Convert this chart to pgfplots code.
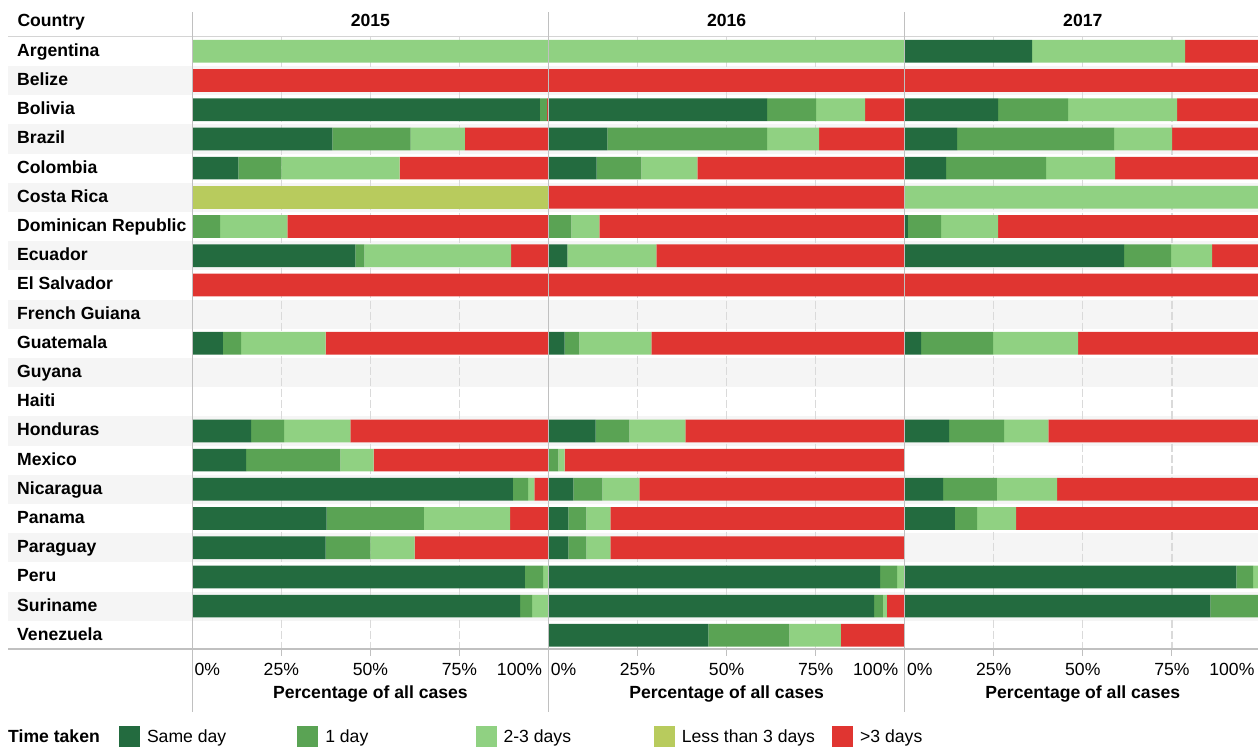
\documentclass[border=0pt]{standalone}
\usepackage{fontspec}
\setmainfont{Liberation Sans}
\usepackage{pgfplots}
\usepackage{pgfplotstable}
\pgfplotsset{compat=1.18}

\definecolor{csame}{RGB}{35,107,63}
\definecolor{cone}{RGB}{90,163,84}
\definecolor{ctwo}{RGB}{144,209,130}
\definecolor{cless}{RGB}{184,203,93}
\definecolor{cgt}{RGB}{224,53,49}
\definecolor{rowbg}{RGB}{245,245,245}
\definecolor{sepgray}{RGB}{192,192,192}
\definecolor{hdrgray}{RGB}{212,212,212}
\definecolor{gridgray}{RGB}{218,218,218}
\newcommand\fs{\fontsize{17.6}{21}\selectfont}

% rows: 0 Argentina ... 20 Venezuela
\pgfplotstableread{
row same one two less gt
0  0    0    100  0   0
1  0    0    0    0   100
2  97.6 2.0  0    0   0.4
3  39.3 22.0 15.2 0   23.5
4  12.9 12.1 33.2 0   41.8
5  0    0    0    100 0
6  0    7.8  18.9 0   73.3
7  45.8 2.5  41.2 0   10.5
8  0    0    0    0   100
9  0    0    0    0   0
10 8.6  5.1  23.7 0   62.6
11 0    0    0    0   0
12 0    0    0    0   0
13 16.5 9.3  18.6 0   55.6
14 15.1 26.5 9.3  0   49.1
15 90.0 4.3  1.7  0   4.0
16 37.7 27.3 24.2 0   10.8
17 37.4 12.6 12.4 0   37.6
18 93.4 5.1  1.5  0   0
19 92.0 3.4  4.6  0   0
20 0    0    0    0   0
}\tabA

\pgfplotstableread{
row same one two gt
0  0    0    100  0
1  0    0    0    100
2  61.4 13.7 13.8 11.1
3  16.5 44.9 14.6 24.0
4  13.5 12.6 15.7 58.2
5  0    0    0    100
6  0    6.4  7.9  85.7
7  5.3  0    25.0 69.7
8  0    0    0    100
9  0    0    0    0
10 4.5  4.2  20.2 71.1
11 0    0    0    0
12 0    0    0    0
13 13.2 9.5  15.7 61.6
14 0    2.8  1.7  95.5
15 7.0  8.1  10.4 74.5
16 5.6  5.0  6.8  82.6
17 5.6  5.0  6.8  82.6
18 93.1 4.8  2.1  0
19 91.4 2.5  1.1  5.0
20 44.9 22.7 14.5 17.9
}\tabB

\pgfplotstableread{
row same one two gt
0  35.8 0    42.9 21.3
1  0    0    0    100
2  26.2 19.7 30.6 23.5
3  14.7 44.1 16.3 24.9
4  11.6 28.1 19.4 40.9
5  0    0    100  0
6  0.9  9.3  16.0 73.8
7  61.6 13.2 11.5 13.7
8  0    0    0    100
9  0    0    0    0
10 4.6  20.2 23.9 51.3
11 0    0    0    0
12 0    0    0    0
13 12.5 15.4 12.4 59.7
14 0    0    0    0
15 10.8 15.1 16.9 57.2
16 14.1 6.2  11.0 68.7
17 0    0    0    0
18 93.1 4.7  2.2  0
19 85.8 14.2 0    0
20 0    0    0    0
}\tabC

\pgfplotsset{
  sq/.style={legend image code/.code={\fill[##1] (0pt,-10.5pt) rectangle (21pt,10.5pt);}},
  panel/.style={
    xbar stacked, scale only axis, width=356.2pt, height=613.2pt, anchor=south west,
    xmin=0, xmax=100, ymin=-0.5, ymax=20.5, y dir=reverse, bar width=0.777,
    axis line style={draw=none},
    xtick={0,25,50,75,100},
    xticklabels={\rlap{\hspace{2.3pt}0\%},25\%,50\%,75\%,\llap{100\%\hspace{6.5pt}}},
    xtick pos=bottom, xtick align=outside, major tick length=6pt,
    tick style={sepgray, line width=1pt},
    xticklabel style={anchor=base, yshift=-19.5pt, font=\fs, text=black},
    xmajorgrids, grid style={gridgray, line width=1.3pt, dash pattern=on 8pt off 3pt},
    xlabel={Percentage of all cases},
    xlabel style={at={(axis description cs:0.5,0)}, anchor=base, yshift=-48.4pt, font=\bfseries\fs},
    title style={at={(axis description cs:0.5,1)}, anchor=base, yshift=4.7pt, font=\bfseries\fs},
    ytick=\empty,
  }
}

\begin{document}
\begin{tikzpicture}
% row backgrounds
\begin{scope}[x=1pt,y=-1pt]
\foreach \i in {1,3,...,19} {
  \fill[rowbg] (8,{36.7+29.2*\i}) rectangle (1262,{36.7+29.2*(\i+1)});
}
\end{scope}

\begin{axis}[panel, at={(192.3pt,-649.9pt)}, title={2015},
  ytick={0,...,20},
  yticklabels={Argentina,Belize,Bolivia,Brazil,Colombia,Costa Rica,Dominican Republic,Ecuador,El Salvador,French Guiana,Guatemala,Guyana,Haiti,Honduras,Mexico,Nicaragua,Panama,Paraguay,Peru,Suriname,Venezuela},
  ytick style={draw=none},
  yticklabel style={anchor=base west, inner sep=0pt, xshift=-175.3pt, yshift=-5pt, font=\bfseries\fs, text=black},
  legend columns=5,
  legend cell align=left,
  legend style={at={(axis description cs:-0.20578,-0.14172)}, anchor=west, draw=none, fill=none, inner sep=0pt, outer sep=0pt, font=\fs,
    nodes={inner sep=0pt},
    /tikz/every odd column/.append style={column sep=7pt}},
]
\addplot[fill=csame, draw=none, sq] table[x=same,y=row]{\tabA};
\addlegendentry{\makebox[150.3pt][l]{Same day}}
\addplot[fill=cone, draw=none, sq] table[x=one,y=row]{\tabA};
\addlegendentry{\makebox[150.3pt][l]{1 day}}
\addplot[fill=ctwo, draw=none, sq] table[x=two,y=row]{\tabA};
\addlegendentry{\makebox[150.3pt][l]{2-3 days}}
\addplot[fill=cless, draw=none, sq] table[x=less,y=row]{\tabA};
\addlegendentry{\makebox[150.3pt][l]{Less than 3 days}}
\addplot[fill=cgt, draw=none, sq] table[x=gt,y=row]{\tabA};
\addlegendentry{\makebox[150.3pt][l]{>3 days}}
\end{axis}

\begin{axis}[panel, at={(548.5pt,-649.9pt)}, title={2016}]
\addplot[fill=csame, draw=none] table[x=same,y=row]{\tabB};
\addplot[fill=cone, draw=none] table[x=one,y=row]{\tabB};
\addplot[fill=ctwo, draw=none] table[x=two,y=row]{\tabB};
\addplot[fill=cgt, draw=none] table[x=gt,y=row]{\tabB};
\end{axis}

\begin{axis}[panel, at={(904.7pt,-649.9pt)}, title={2017}]
\addplot[fill=csame, draw=none] table[x=same,y=row]{\tabC};
\addplot[fill=cone, draw=none] table[x=one,y=row]{\tabC};
\addplot[fill=ctwo, draw=none] table[x=two,y=row]{\tabC};
\addplot[fill=cgt, draw=none] table[x=gt,y=row]{\tabC};
\end{axis}

\begin{scope}[x=1pt,y=-1pt]
\draw[hdrgray, line width=1pt] (8,36.7) -- (1262,36.7);
\draw[sepgray, line width=2pt] (8,649.3) -- (1262,649.3);
\foreach \xx in {192.3,548.5,904.7} {
  \draw[sepgray, line width=1.5pt] (\xx,12) -- (\xx,712);
}
\node[anchor=base west, font=\bfseries\fs, inner sep=0pt] at (17.3,26) {Country};
\node[anchor=base west, font=\bfseries\fs, inner sep=0pt] at (8,742.5) {Time taken};
\end{scope}

\pgfresetboundingbox
\path (0pt,0pt) rectangle (1258pt,-747pt);
\end{tikzpicture}
\end{document}
